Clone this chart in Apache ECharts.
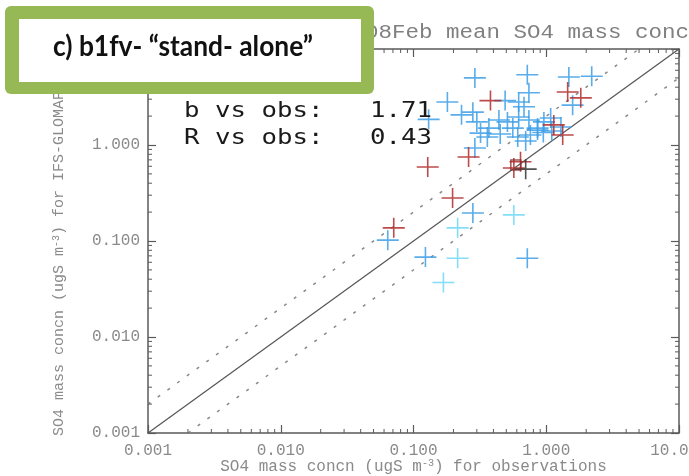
<!DOCTYPE html>
<html><head><meta charset="utf-8">
<script src="https://cdn.jsdelivr.net/npm/echarts@6/dist/echarts.min.js"></script>
<style>html,body{margin:0;padding:0;background:#fff}#c{width:689px;height:476px}</style>
</head><body><div id="c"></div>
<script>
// ---- data ----
const tickValues = [0.001, 0.01, 0.1, 1, 10];
const tickLabels = ['0.001', '0.010', '0.100', '1.000', '10.000'];
const bluePts = [[0.29,5.0],[0.72,5.4],[0.74,3.5],[1.48,5.1],[2.2,5.2],[0.49,2.9],[0.18,2.8],[0.62,2.8],[0.68,2.5],[1.58,2.6],
  [0.13,1.85],[0.23,2.06],[0.28,2.2],[0.30,1.74],[0.37,1.50],[0.44,1.82],[0.51,1.74],[0.56,1.50],[0.62,1.96],[0.74,1.82],
  [0.86,1.50],[0.96,1.74],[1.08,1.91],[1.29,1.54],[0.32,1.33],[0.36,1.21],[0.61,1.21],[0.76,1.27],[0.86,1.43],[0.29,0.93],
  [0.45,1.30],[0.70,1.10],[0.95,1.35],[1.1,1.4],[0.064,0.102],[0.123,0.068],[0.72,0.066],[0.28,0.196]];
const cyanPts = [[0.57,0.187],[0.215,0.137],[0.215,0.066],[0.168,0.037]];
const redPts = [[1.45,3.56],[1.82,3.1],[0.38,2.9],[1.14,1.62],[1.33,1.27],[0.26,0.75],[0.128,0.59],[0.64,0.67],[0.57,0.575],[0.197,0.28],[0.071,0.137]];
const blackPts = [[0.70,0.56]];
const meanBox = [[0.59,0.62]];
const oneToOne = [[0.001,0.001],[10,10]];
const upperLine = [[0.001,0.002],[5,10]];
const lowerLine = [[0.002,0.001],[10,5]];
const statLines = ['b vs obs:   1.71', 'R vs obs:   0.43'];
const titleText = '08Feb mean SO4 mass concn';
const panelLabel = 'c) b1fv- \u201cstand- alone\u201d';
const xName = 'SO4 mass concn (ugS m{sup|-3}) for observations';
const yName = 'SO4 mass concn (ugS m{sup|-3}) for IFS-GLOMAP_b1fv';

// minor tick positions (2..9 per decade)
const minorVals = [];
for (let e = -3; e < 1; e++) for (let m = 2; m <= 9; m++) minorVals.push(+(m * Math.pow(10, e)).toPrecision(3));

const ctx = document.createElement('canvas').getContext('2d');
function scaleFor(text, font, target) { ctx.font = font; return target / ctx.measureText(text).width; }

const AX = '#5a5a5a', LBL = '#8a8a8a';
const monoFont = 'Liberation Mono';
const cross = 'path://M0,9.2H22V10.8H0ZM10.2,0H11.8V20H10.2Z';

function fmt(v) { const i = Math.round(Math.log10(v)) + 3; return tickLabels[i] || ''; }
const supStyle = { fontSize: 10, padding: [0, 0, 7, 0], color: LBL, fontFamily: monoFont };
function logAxis(extra) {
  return Object.assign({
    type: 'log', logBase: 10, min: tickValues[0], max: tickValues[tickValues.length - 1],
    axisLine: { show: true, lineStyle: { color: AX, width: 1.5 } },
    axisTick: { show: true, inside: true, length: 8, lineStyle: { color: AX, width: 1.2 } },
    splitLine: { show: false },
    axisLabel: { show: true, formatter: fmt, color: LBL, fontFamily: monoFont, fontSize: 16 }
  }, extra);
}

function tickSeries(isX) {
  return {
    type: 'custom', silent: true, xAxisIndex: 0, yAxisIndex: 0, clip: false, z: 5,
    data: minorVals.map(v => isX ? [v, 0.001] : [0.001, v]),
    renderItem: function (params, api) {
      const L = 4, st = { stroke: AX, lineWidth: 1 };
      if (isX) {
        const v = api.value(0);
        const b = api.coord([v, 0.001]), t = api.coord([v, 10]);
        return { type: 'group', children: [
          { type: 'line', shape: { x1: b[0], y1: b[1], x2: b[0], y2: b[1] - L }, style: st },
          { type: 'line', shape: { x1: t[0], y1: t[1], x2: t[0], y2: t[1] + L }, style: st }] };
      } else {
        const v = api.value(1);
        const l = api.coord([0.001, v]), r = api.coord([10, v]);
        return { type: 'group', children: [
          { type: 'line', shape: { x1: l[0], y1: l[1], x2: l[0] + L, y2: l[1] }, style: st },
          { type: 'line', shape: { x1: r[0], y1: r[1], x2: r[0] - L, y2: r[1] }, style: st }] };
      }
    }
  };
}
function scat(data, color) {
  return { type: 'scatter', data: data, symbol: cross, symbolSize: [22, 20], z: 4,
    itemStyle: { color: color, opacity: 0.85 } };
}

const titleFont = '20px ' + monoFont;
const statFont = '21px "DejaVu Sans Mono"';
const panelFont = 'bold 28px Lato';

const chart = echarts.init(document.getElementById('c'), null, { renderer: 'canvas' });
chart.setOption({
  animation: false,
  backgroundColor: '#fff',
  grid: { left: 148, right: 10, top: 49, bottom: 43, containLabel: false, outerBoundsMode: 'none' },
  xAxis: [
    logAxis({ position: 'bottom', name: xName, nameLocation: 'middle', nameGap: 25, nameMoveOverlap: false,
      axisLabel: { show: true, formatter: fmt, color: LBL, fontFamily: monoFont, fontSize: 16, margin: 10, alignMaxLabel: 'center', alignMinLabel: 'center', hideOverlap: false },
      nameTextStyle: { color: LBL, fontFamily: monoFont, fontSize: 16, rich: { sup: supStyle } } }),
    logAxis({ position: 'top', axisLabel: { show: false } })
  ],
  yAxis: [
    logAxis({ position: 'left', name: yName, nameLocation: 'middle', nameGap: 80, nameRotate: 90,
      axisLabel: { show: true, formatter: fmt, color: LBL, fontFamily: monoFont, fontSize: 16, margin: 8 },
      nameTextStyle: { color: LBL, fontFamily: monoFont, fontSize: 15, rich: { sup: supStyle } } }),
    logAxis({ position: 'right', axisLabel: { show: false } })
  ],
  series: [
    { type: 'line', data: oneToOne, symbol: 'none', z: 2, lineStyle: { color: '#555', width: 1.2 } },
    { type: 'line', data: upperLine, symbol: 'none', z: 2, lineStyle: { color: '#888', width: 1.5, type: [3, 9] } },
    { type: 'line', data: lowerLine, symbol: 'none', z: 2, lineStyle: { color: '#888', width: 1.5, type: [3, 9] } },
    tickSeries(true), tickSeries(false),
    scat(bluePts, '#3d9fe6'),
    scat(cyanPts, '#6fd8f6'),
    scat(redPts, '#b02c2c'),
    scat(blackPts, '#333333'),
    { type: 'scatter', data: meanBox, symbol: 'rect', symbolSize: 10, z: 6,
      itemStyle: { color: 'transparent', borderColor: '#8a2a2a', borderWidth: 1.5 } }
  ],
  graphic: [
    { type: 'text', x: 365, y: 33, scaleX: scaleFor('08Feb', titleFont, 5 * 13.5), z: 10,
      style: { text: titleText, font: titleFont, fill: '#808080', align: 'left', textAlign: 'left', verticalAlign: 'middle', textVerticalAlign: 'middle' } },
    { type: 'text', x: 184, y: 112, scaleX: scaleFor(statLines[0], statFont, 248), z: 10,
      style: { text: statLines[0], font: statFont, fill: '#1a1a1a', align: 'left', textAlign: 'left', verticalAlign: 'middle', textVerticalAlign: 'middle' } },
    { type: 'text', x: 184, y: 139, scaleX: scaleFor(statLines[1], statFont, 248), z: 10,
      style: { text: statLines[1], font: statFont, fill: '#1a1a1a', align: 'left', textAlign: 'left', verticalAlign: 'middle', textVerticalAlign: 'middle' } },
    { type: 'rect', shape: { x: 5, y: 6, width: 369, height: 88, r: 6 }, z: 20, style: { fill: '#96b855' } },
    { type: 'rect', shape: { x: 19, y: 19, width: 342, height: 63 }, z: 21, style: { fill: '#ffffff' } },
    { type: 'text', x: 183, y: 47, scaleX: scaleFor(panelLabel, panelFont, 260), z: 22,
      style: { text: panelLabel, font: panelFont, fill: '#111', align: 'center', textAlign: 'center', verticalAlign: 'middle', textVerticalAlign: 'middle' } }
  ]
});
</script>
</body></html>
